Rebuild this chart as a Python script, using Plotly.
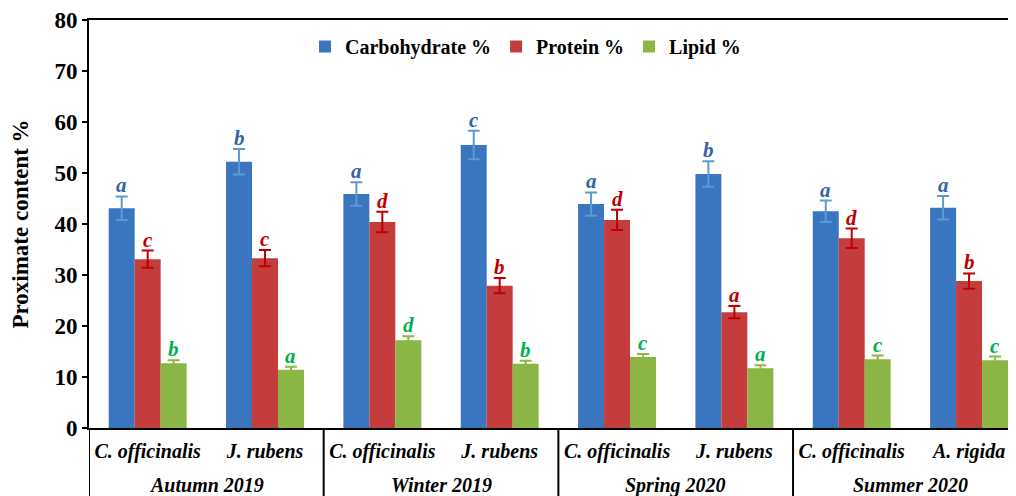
import plotly.graph_objects as go

species = ["C. officinalis", "J. rubens", "C. officinalis", "J. rubens",
           "C. officinalis", "J. rubens", "C. officinalis", "A. rigida"]
seasons = ["Autumn 2019", "Winter 2019", "Spring 2020", "Summer 2020"]

carb = [43.1, 52.2, 45.9, 55.5, 43.9, 49.8, 42.5, 43.2]
carb_err = [2.3, 2.5, 2.3, 2.8, 2.3, 2.5, 2.1, 2.3]
prot = [33.1, 33.3, 40.4, 27.9, 40.8, 22.7, 37.2, 28.8]
prot_err = [1.7, 1.6, 2.0, 1.5, 2.0, 1.2, 1.9, 1.5]
lipid = [12.7, 11.4, 17.2, 12.6, 13.9, 11.7, 13.5, 13.3]
lipid_err = [0.6, 0.6, 0.8, 0.6, 0.6, 0.6, 0.7, 0.7]

carb_letters = ["a", "b", "a", "c", "a", "b", "a", "a"]
prot_letters = ["c", "c", "d", "b", "d", "a", "d", "b"]
lipid_letters = ["b", "a", "d", "b", "c", "a", "c", "c"]

FONT = "Liberation Serif"
x = list(range(len(species)))
bargap = 0.336
w = (1 - bargap) / 3

series = [
    ("Carbohydrate %", carb, carb_err, carb_letters, "#3A75C0", "#5B9BD5", "#3464A4", -w),
    ("Protein %", prot, prot_err, prot_letters, "#C43C3C", "#C00000", "#C00000", 0),
    ("Lipid %", lipid, lipid_err, lipid_letters, "#8BB544", "#8DB840", "#00B050", w),
]

fig = go.Figure()
annotations = []
for name, vals, errs, letters, col, ecol, lcol, off in series:
    fig.add_trace(go.Bar(
        name=f"<b>{name}</b>", x=x, y=vals,
        marker=dict(color=col, line=dict(width=0)),
        error_y=dict(type="data", array=errs, visible=True, color=ecol,
                     thickness=2, width=6),
    ))
    for i, (v, e, L) in enumerate(zip(vals, errs, letters)):
        annotations.append(dict(
            x=i + off, y=v + e, xref="x", yref="y", text=f"<b><i>{L}</i></b>",
            showarrow=False, yanchor="bottom", yshift=-3,
            font=dict(family=FONT, size=21, color=lcol)))

for k, s in enumerate(seasons):
    annotations.append(dict(
        x=2 * k + 0.5, y=-0.14, xref="x", yref="paper",
        text=f"<b><i>{s}</i></b>", showarrow=False, yanchor="middle",
        font=dict(family=FONT, size=20, color="black")))

shapes = []
for xb in [-0.5, 1.5, 3.5, 5.5]:
    shapes.append(dict(type="line", xref="x", yref="paper", x0=xb, x1=xb,
                       y0=0, y1=-0.25, line=dict(color="black", width=2)))

fig.update_layout(
    width=1008, height=488,
    margin=dict(l=81, r=0, t=12, b=68),
    barmode="group", bargap=bargap, bargroupgap=0,
    plot_bgcolor="white", paper_bgcolor="white",
    font=dict(family=FONT, color="black"),
    showlegend=True,
    legend=dict(orientation="h", x=0.233, y=0.935, xanchor="left", yanchor="middle",
                font=dict(family=FONT, size=20, color="black"),
                bgcolor="rgba(0,0,0,0)", itemwidth=30, traceorder="normal"),
    annotations=annotations, shapes=shapes,
    xaxis=dict(range=[-0.5, 7.4], tickvals=x,
               ticktext=[f"<b><i>{s}</i></b>" for s in species],
               tickfont=dict(family=FONT, size=20, color="black"),
               showline=True, linecolor="black", linewidth=2, mirror=True,
               ticks="", ticklabelstandoff=4, showgrid=False, zeroline=False),
    yaxis=dict(range=[0, 80], dtick=10, showline=True, linecolor="black",
               linewidth=2, ticks="outside", ticklen=5, tickwidth=2,
               tickcolor="black", showgrid=False, zeroline=False,
               tickfont=dict(family=FONT, size=23, color="black"),
               tickprefix="<b>", ticksuffix="</b>",
               title=dict(text="<b>Proximate content %</b>", standoff=20,
                          font=dict(family=FONT, size=23, color="black"))),
)

fig.write_html("out.html")
